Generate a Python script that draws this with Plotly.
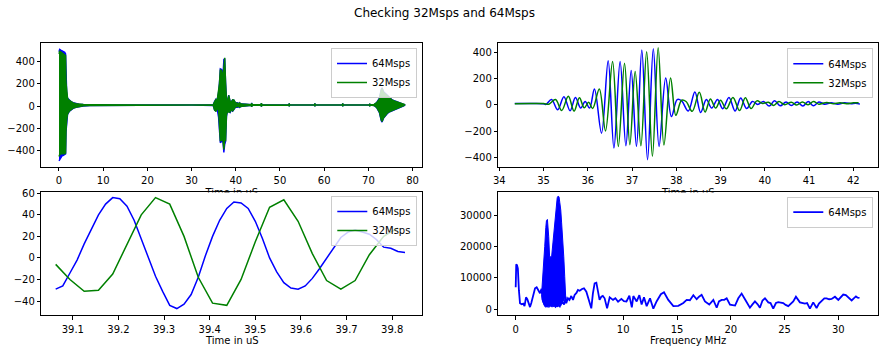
import plotly.graph_objects as go

# ---------------- data ----------------
# Top-left: whole record, envelope (upper / lower) of the densely oscillating signal
tl_t = [0.0, 0.15, 0.4, 0.7, 1.0, 1.3, 1.5, 1.6, 1.75, 1.95, 2.3, 2.7, 3.2, 3.8, 4.5, 5.5, 7.0, 9.0, 12.0, 20.0,
        30.0, 34.9, 35.2, 35.5, 35.8, 36.1, 36.3, 36.5, 36.8, 37.1, 37.3, 37.5, 37.7, 37.9, 38.1, 38.4, 38.7, 39.0,
        39.3, 39.6, 39.9, 40.3, 40.8, 40.9, 41.0, 41.5, 42.2, 43.5, 43.6, 43.7, 45.7, 45.8, 45.9, 52.0, 52.1, 52.2,
        57.8, 57.9, 58.0, 64.1, 64.2, 64.3, 70.2, 70.3, 70.4, 71.3, 71.9, 72.5, 72.9, 73.1, 73.4, 73.8, 74.2, 74.7,
        75.3, 76.0, 76.7, 77.4, 78.0, 78.3]
tl_hi64 = [490, 512, 505, 498, 492, 485, 470, 220, 120, 70, 52, 40, 30, 22, 17, 14, 12, 11, 10, 10,
           10, 12, 40, 62, 55, 120, 205, 335, 330, 268, 420, 428, 210, 60, 40, 98, 42, 40,
           56, 52, 28, 30, 22, 30, 20, 18, 14, 12, 28, 12, 12, 25, 12, 10, 22, 10,
           10, 22, 10, 10, 22, 10, 10, 20, 10, 14, 32, 70, 150, 165, 130, 115, 92, 75,
           58, 45, 34, 25, 18, 10]
tl_lo64 = [-495, -485, -465, -450, -445, -440, -432, -230, -135, -75, -50, -35, -22, -12, -5, 0, 4, 6, 8, 8,
           8, 5, -35, -45, -30, -100, -215, -332, -318, -320, -420, -345, -318, -95, -50, -50, -60, -35,
           -47, -30, -12, -12, -8, -12, -5, 0, 3, 6, -8, 6, 7, -5, 7, 8, -3, 8,
           8, -3, 8, 8, -3, 8, 8, -2, 8, 5, -15, -60, -130, -145, -112, -95, -72, -55,
           -40, -28, -18, -8, 2, 10]
tl_hi32 = [470, 495, 490, 480, 475, 468, 455, 210, 115, 68, 50, 38, 28, 20, 16, 13, 12, 11, 10, 10,
           10, 12, 38, 60, 53, 121, 200, 330, 317, 254, 405, 435, 204, 55, 38, 95, 45, 35,
           56, 54, 30, 25, 22, 28, 20, 18, 14, 12, 26, 12, 12, 24, 12, 10, 22, 10,
           10, 22, 10, 10, 22, 10, 10, 20, 10, 14, 30, 65, 140, 158, 125, 110, 88, 72,
           56, 43, 32, 24, 17, 12]
tl_lo32 = [-455, -440, -430, -428, -430, -432, -425, -220, -125, -70, -48, -33, -20, -11, -4, 1, 5, 6, 8, 8,
           8, 6, -38, -48, -28, -28, -199, -317, -304, -312, -392, -307, -310, -80, -55, -55, -55, -31,
           -44, -29, -10, -5, -6, -10, -5, 0, 3, 6, -6, 6, 7, -4, 7, 8, -3, 8,
           8, -3, 8, 8, -3, 8, 8, -2, 8, 5, -14, -55, -125, -140, -108, -90, -68, -52,
           -38, -26, -16, -6, 3, 12]

# Top-right: second echo (turning points)
tr_t64 = [34.35, 34.7, 35.0, 35.05, 35.18, 35.32, 35.46, 35.6, 35.72, 35.84, 35.94, 36.04, 36.15, 36.31, 36.46,
          36.59, 36.73, 36.86, 36.98, 37.1, 37.22, 37.35, 37.48, 37.61, 37.76, 37.89, 38.02, 38.12, 38.27, 38.42,
          38.55, 38.68, 38.8, 38.93, 39.05, 39.19, 39.33, 39.455, 39.59, 39.72, 39.84, 39.97, 40.1, 40.22, 40.35,
          40.48, 40.6, 40.73, 40.86, 40.98, 41.1, 41.22, 41.35, 41.5, 41.65, 41.8, 41.95, 42.05, 42.15]
tr_v64 = [10, 10, 8, 2, 40, -38, 62, -45, 55, -25, 25, -25, 121, -216, 335,
          -330, 330, -312, 262, -317, 418, -418, 428, -317, 204, -90, 40, 30, -48, 98,
          -58, 40, -25, 40, -30, 56, -47, 52, -29, 26, 3, 25, -10, 30, -8,
          22, -5, 22, -10, 25, -8, 22, 5, 15, 5, 15, 8, 12, 5]
tr_t32 = [34.35, 34.7, 35.0, 35.12, 35.27, 35.41, 35.56, 35.69, 35.81, 35.92, 36.02, 36.11, 36.26, 36.4, 36.56,
          36.69, 36.83, 36.95, 37.07, 37.2, 37.33, 37.46, 37.59, 37.72, 37.87, 37.99, 38.12, 38.22, 38.36, 38.52,
          38.65, 38.77, 38.89, 39.0, 39.13, 39.28, 39.43, 39.56, 39.69, 39.82, 39.95, 40.08, 40.2, 40.32, 40.45,
          40.6, 40.72, 40.85, 40.98, 41.1, 41.22, 41.4, 41.55, 41.7, 41.85, 42.0, 42.12]
tr_v32 = [8, 9, 10, 5, 40, -43, 65, -48, 53, -23, 20, -28, 121, -199, 330,
          -317, 317, -304, 254, -312, 405, -392, 435, -307, 204, -80, 35, 25, -50, 95,
          -55, 45, -25, 35, -31, 56, -44, 54, -29, 30, 10, 20, -5, 25, 0,
          20, -2, 22, 0, 25, 5, 18, 8, 15, 8, 15, 15]

# Bottom-left: zoom on individual samples
bl_t64 = [39.0625, 39.0781, 39.0938, 39.1094, 39.125, 39.1406, 39.1563, 39.1719, 39.1875, 39.2031,
          39.2188, 39.2344, 39.25, 39.2656, 39.2813, 39.2969, 39.3125, 39.3281, 39.3438, 39.3594,
          39.375, 39.3906, 39.4063, 39.4219, 39.4375, 39.4531, 39.4688, 39.4844, 39.5, 39.5156,
          39.5313, 39.5469, 39.5625, 39.5781, 39.5938, 39.6094, 39.625, 39.6406, 39.6563, 39.6719,
          39.6875, 39.7031, 39.7188, 39.7344, 39.75, 39.7656, 39.7813, 39.7969, 39.8125, 39.8281]
bl_v64 = [-29, -26, -14, -2, 13, 27, 40, 50, 56, 55,
          48, 35, 18, 0, -17, -31, -44, -47, -43, -34,
          -18, 2, 20, 35, 46, 52, 51, 46, 34, 18,
          0, -13, -23, -28, -29, -26, -19, -10, 0, 9,
          19, 24, 26, 24, 22, 17, 10, 9, 6, 5]
bl_t32 = [39.0625, 39.0938, 39.125, 39.1563, 39.1875, 39.2188, 39.25, 39.2813, 39.3125, 39.3438,
          39.375, 39.4063, 39.4375, 39.4688, 39.5, 39.5313, 39.5625, 39.5938, 39.625, 39.6563,
          39.6875, 39.7188, 39.75, 39.7813, 39.8125]
bl_v32 = [-6, -20, -31, -30, -15, 12, 40, 56, 50, 20,
          -18, -42, -44, -20, 15, 47, 54, 34, 4, -21,
          -29, -21, 3, 20, 28]

# Bottom-right: spectrum magnitude
fr_f = [0.0, 0.05, 0.12, 0.2, 0.3, 0.4, 0.55, 0.7, 0.82, 0.96, 1.08, 1.18, 1.33, 1.45, 1.6, 1.8, 1.95, 2.1, 2.26,
        2.4, 2.5, 2.7, 2.9, 3.1, 3.3, 3.5, 3.7, 3.9, 4.1, 4.3, 4.5, 4.65, 4.7, 4.86, 5.0, 5.17, 5.33, 5.48, 5.65,
        5.79, 5.95, 6.17, 6.35, 6.57, 6.78, 7.03, 7.18, 7.34, 7.5, 7.65, 7.8, 7.96, 8.1, 8.27, 8.5, 8.74, 9.05,
        9.27, 9.52, 9.83, 10.06, 10.3, 10.57, 10.8, 10.94, 11.25, 11.5, 11.71, 11.93, 12.18, 12.49, 12.8, 13.1,
        13.5, 13.79, 14.19, 14.66, 15.12, 15.59, 15.9, 16.2, 16.52, 16.83, 17.05, 17.29, 17.6, 18.0, 18.38, 18.69,
        18.9, 19.15, 19.4, 19.62, 19.93, 20.4, 20.7, 21.01, 21.32, 21.78, 22.0, 22.25, 22.5, 22.71, 22.95, 23.18,
        23.49, 23.7, 23.95, 24.2, 24.42, 24.88, 25.1, 25.35, 25.81, 26.06, 26.43, 26.9, 27.1, 27.36, 27.67, 27.98,
        28.2, 28.45, 28.7, 28.91, 29.15, 29.38, 29.69, 30.0, 30.2, 30.46, 30.7, 30.93, 31.24, 31.44, 31.64, 31.8,
        31.97]
fr_v = [7000, 14300, 14000, 13000, 6000, 1900, 1600, 1800, 1000, 3800, 3200, 2300, 700, 2000, 4500, 6680, 7000,
        6150, 5100, 6500, 3000, 1500, 1000, 2500, 1200, 2000, 800, 1500, 900, 2500, 1500, 4000, 1900, 3500, 3000,
        4230, 3000, 4550, 5200, 6140, 5900, 6450, 6680, 5600, 3000, 300, 5090, 8270, 8480, 6150, 3000, 4000, 4230,
        3500, 300, 3800, 3000, 3500, 2400, 3300, 2600, 2500, 4300, 600, 4200, 2500, 4500, 1500, 3800, 1000, 3500,
        200, 2500, 4800, 5400, 3000, 1000, 1100, 2000, 3000, 2900, 4500, 3200, 4000, 4600, 2500, 1500, 3000, 500,
        2500, 3000, 3000, 3500, 1500, 1200, 3500, 5000, 3200, 500, 1500, 2500, 1600, 500, 2800, 3500, 2200, 2000,
        200, 2000, 2300, 2000, 1400, 1000, 2500, 4000, 2200, 1800, 2000, 200, 2200, 400, 1800, 2800, 3500, 3500,
        3200, 3300, 4000, 3000, 3600, 4700, 4500, 3800, 2800, 3500, 4100, 3700, 3600]
# dense band between 2.4 and 4.7 MHz (upper / lower envelope)
dn_f = [2.42, 2.5, 2.6, 2.7, 2.8, 2.86, 2.95, 3.02, 3.07, 3.16, 3.25, 3.32, 3.4, 3.47, 3.55, 3.63, 3.7, 3.78,
        3.86, 3.94, 4.03, 4.1, 4.19, 4.27, 4.34, 4.41, 4.47, 4.56, 4.65]
dn_hi = [5500, 9000, 14000, 20000, 26000, 28200, 28600, 26000, 23100, 16200, 16800, 16000, 19000, 21000, 23500,
         26300, 30000, 33700, 35500, 36000, 35800, 34000, 31600, 27500, 24200, 20000, 16700, 10400, 4000]
dn_lo = [4500, 2500, 1500, 900, 700, 800, 1000, 600, 900, 700, 1200, 800, 900, 700, 1100, 900, 800, 1000,
         700, 1200, 900, 1500, 1100, 2000, 1700, 2500, 3000, 3500, 3800]

assert len(tl_t) == len(tl_hi64) == len(tl_lo64) == len(tl_hi32) == len(tl_lo32)
assert len(tr_t64) == len(tr_v64) and len(tr_t32) == len(tr_v32)
assert len(bl_t64) == len(bl_v64) and len(bl_t32) == len(bl_v32)
assert len(fr_f) == len(fr_v) and len(dn_f) == len(dn_hi) == len(dn_lo)

BLUE = "#0000ff"
GREEN = "#008000"
FONT = "DejaVu Sans"
W, H = 889, 353


def px_x(p):
    return p / W


def px_y(p):
    return 1 - p / H


# axis ranges (matplotlib-like 5% padding)
XR1, YR1 = [-4.0, 82.2], [-548, 566]
XR2, YR2 = [33.977, 42.565], [-471.6, 468.6]
XR3, YR3 = [39.031, 39.866], [-53.0, 61.5]
XR4, YR4 = [-1.618, 33.72], [-1813, 37412]
PANEL_H = 123.3  # plot-area height in px of every panel

fig = go.Figure()

# ---------------- top-left ----------------
for hi, lo, col in [(tl_hi64, tl_lo64, BLUE), (tl_hi32, tl_lo32, GREEN)]:
    fig.add_trace(go.Scatter(x=tl_t + tl_t[::-1], y=hi + lo[::-1], mode="lines", fill="toself",
                             fillcolor=col, line=dict(color=col, width=1.4), showlegend=False,
                             hoverinfo="skip", xaxis="x", yaxis="y"))
for name, col in [("64Msps", BLUE), ("32Msps", GREEN)]:
    fig.add_trace(go.Scatter(x=[None], y=[None], mode="lines", name=name, line=dict(color=col, width=1.5),
                             legend="legend", xaxis="x", yaxis="y"))

# ---------------- top-right ----------------
fig.add_trace(go.Scatter(x=tr_t64, y=tr_v64, mode="lines", name="64Msps",
                         line=dict(color=BLUE, width=1.5, shape="spline", smoothing=1.0),
                         legend="legend2", xaxis="x2", yaxis="y2"))
fig.add_trace(go.Scatter(x=tr_t32, y=tr_v32, mode="lines", name="32Msps",
                         line=dict(color=GREEN, width=1.5, shape="spline", smoothing=1.0),
                         legend="legend2", xaxis="x2", yaxis="y2"))

# ---------------- bottom-left ----------------
fig.add_trace(go.Scatter(x=bl_t64, y=bl_v64, mode="lines", name="64Msps", line=dict(color=BLUE, width=1.5),
                         legend="legend3", xaxis="x3", yaxis="y3"))
fig.add_trace(go.Scatter(x=bl_t32, y=bl_v32, mode="lines", name="32Msps", line=dict(color=GREEN, width=1.5),
                         legend="legend3", xaxis="x3", yaxis="y3"))

# ---------------- bottom-right ----------------
fig.add_trace(go.Scatter(x=dn_f + dn_f[::-1], y=dn_hi + dn_lo[::-1], mode="lines", fill="toself",
                         fillcolor=BLUE, line=dict(color=BLUE, width=1), showlegend=False, hoverinfo="skip",
                         xaxis="x4", yaxis="y4"))
fig.add_trace(go.Scatter(x=fr_f, y=fr_v, mode="lines", name="64Msps", line=dict(color=BLUE, width=1.8),
                         legend="legend4", xaxis="x4", yaxis="y4"))

# x labels of the top row: in the original they sit half hidden behind the lower panels.
# Drawn as text just inside the top edge of the lower panels, lower part masked below.
off3 = 2.0 * (YR3[1] - YR3[0]) / PANEL_H
off4 = 2.0 * (YR4[1] - YR4[0]) / PANEL_H
fig.add_trace(go.Scatter(x=[(XR3[0] + XR3[1]) / 2], y=[YR3[1] - off3], mode="text", text=["Time in uS"],
                         textposition="middle center", cliponaxis=False,
                         textfont=dict(family=FONT, size=10, color="black"), showlegend=False,
                         hoverinfo="skip", xaxis="x3", yaxis="y3"))
fig.add_trace(go.Scatter(x=[(XR4[0] + XR4[1]) / 2], y=[YR4[1] - off4], mode="text", text=["Time in uS"],
                         textposition="middle center", cliponaxis=False,
                         textfont=dict(family=FONT, size=10, color="black"), showlegend=False,
                         hoverinfo="skip", xaxis="x4", yaxis="y4"))

# ---------------- axes ----------------
axis_common = dict(showline=True, mirror=True, linecolor="black", linewidth=1, showgrid=False, zeroline=False,
                   ticks="outside", ticklen=3.5, tickwidth=0.8, tickcolor="black",
                   tickfont=dict(family=FONT, size=10, color="black"), automargin=False)

dom_xl = [px_x(41.3), px_x(422.3)]
dom_xr = [px_x(498.3), px_x(878.3)]
dom_yt = [px_y(166.7), px_y(43.3)]
dom_yb = [px_y(315.0), px_y(191.7)]

fig.update_layout(
    xaxis=dict(domain=dom_xl, anchor="y", range=XR1, tickvals=[0, 10, 20, 30, 40, 50, 60, 70, 80],
               ticklabelstandoff=1, **axis_common),
    yaxis=dict(domain=dom_yt, anchor="x", range=YR1, tickvals=[-400, -200, 0, 200, 400], **axis_common),
    xaxis2=dict(domain=dom_xr, anchor="y2", range=XR2, tickvals=[34, 35, 36, 37, 38, 39, 40, 41, 42],
                ticklabelstandoff=1, **axis_common),
    yaxis2=dict(domain=dom_yt, anchor="x2", range=YR2, tickvals=[-400, -200, 0, 200, 400], **axis_common),
    xaxis3=dict(domain=dom_xl, anchor="y3", range=XR3,
                tickvals=[39.1, 39.2, 39.3, 39.4, 39.5, 39.6, 39.7, 39.8], ticklabelstandoff=1, **axis_common),
    yaxis3=dict(domain=dom_yb, anchor="x3", range=YR3, tickvals=[-40, -20, 0, 20, 40, 60], **axis_common),
    xaxis4=dict(domain=dom_xr, anchor="y4", range=XR4, tickvals=[0, 5, 10, 15, 20, 25, 30],
                ticklabelstandoff=1, **axis_common),
    yaxis4=dict(domain=dom_yb, anchor="x4", range=YR4, tickvals=[0, 10000, 20000, 30000],
                tickformat="d", **axis_common),
)

legend_common = dict(xanchor="right", yanchor="top", bgcolor="rgba(255,255,255,0.8)", bordercolor="#cccccc",
                     borderwidth=1, font=dict(family=FONT, size=10, color="black"), tracegroupgap=0,
                     itemwidth=30)
fig.update_layout(
    legend=dict(x=px_x(417), y=px_y(48), **legend_common),
    legend2=dict(x=px_x(873.3), y=px_y(48.3), **legend_common),
    legend3=dict(x=px_x(417.3), y=px_y(196), **legend_common),
    legend4=dict(x=px_x(873.3), y=px_y(196.7), **legend_common),
)

# white patches masking the lower part of the top-row axis labels (kept clear of the data)
for x0, x1 in [(202, 262), (658, 719)]:
    fig.add_shape(type="rect", xref="paper", yref="paper", x0=px_x(x0), x1=px_x(x1), y0=px_y(198.8),
                  y1=px_y(192.4), fillcolor="white", line=dict(width=0), layer="above")

fig.add_annotation(text="Time in uS", xref="paper", yref="paper", x=px_x(231.8), y=px_y(340),
                   xanchor="center", yanchor="middle", showarrow=False,
                   font=dict(family=FONT, size=10, color="black"))
fig.add_annotation(text="Frequency MHz", xref="paper", yref="paper", x=px_x(688.3), y=px_y(340),
                   xanchor="center", yanchor="middle", showarrow=False,
                   font=dict(family=FONT, size=10, color="black"))
fig.add_annotation(text="Checking 32Msps and 64Msps", xref="paper", yref="paper", x=0.5, y=px_y(13),
                   xanchor="center", yanchor="middle", showarrow=False,
                   font=dict(family=FONT, size=12, color="black"))

fig.update_layout(width=W, height=H, autosize=False, margin=dict(l=0, r=0, t=0, b=0),
                  paper_bgcolor="white", plot_bgcolor="white", showlegend=True)

fig.write_html("out.html")
